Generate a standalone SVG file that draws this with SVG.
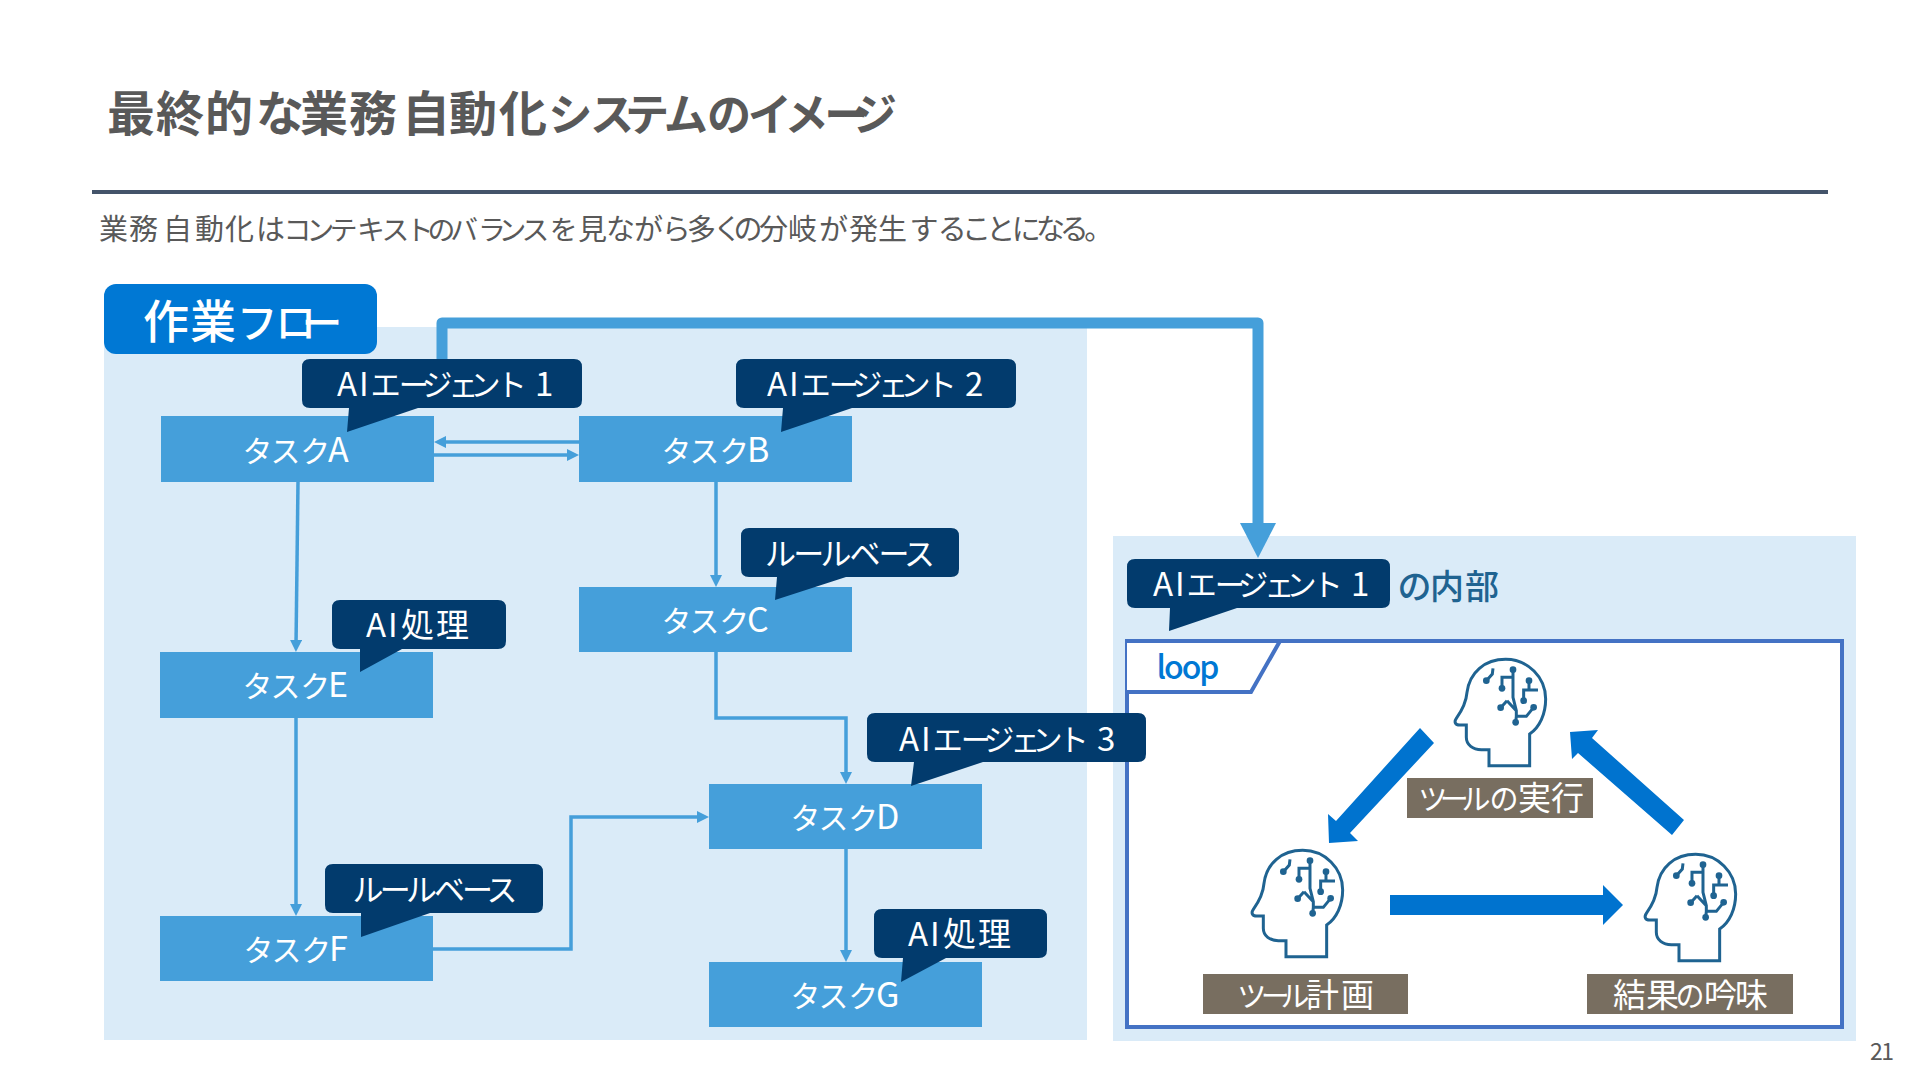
<svg xmlns="http://www.w3.org/2000/svg" width="1920" height="1080" viewBox="0 0 1920 1080">
<style>
text{font-family:"Noto Sans CJK JP","Noto Sans",sans-serif;font-feature-settings:"palt";}
.m{text-anchor:middle;}
.w{fill:#fff;}
.k{font-size:.88em;}
.k2{font-size:.92em;}
.k3{font-size:.96em;}
.task{fill:#459FDA;}
.tt{fill:#fff;font-size:34px;}
.co{fill:#023B6D;}
.ct{fill:#fff;font-size:33px;}
.lb{fill:#786E60;}
.lt{fill:#fff;font-size:33px;}
.panel{fill:#DAEBF8;}
.thin{fill:none;stroke:#459FDA;stroke-width:3.5;marker-end:url(#ah);}
.thick{fill:none;stroke:#459FDA;stroke-width:11;stroke-linejoin:round;marker-end:url(#ahb);}
.big{fill:#0073CF;}
.br{fill:none;stroke:#1F6391;stroke-width:9;stroke-linejoin:miter;}
.dot{fill:#1F6391;}
</style>
<defs>
<marker id="ah" markerUnits="userSpaceOnUse" markerWidth="12" markerHeight="12" refX="6" refY="6" orient="auto"><path d="M0 0L12 6L0 12Z" fill="#459FDA"/></marker>
<marker id="ahb" markerUnits="userSpaceOnUse" markerWidth="36" markerHeight="36" refX="7" refY="18" orient="auto"><path d="M0 0L35 18L0 36Z" fill="#459FDA"/></marker>
<g id="brain" transform="scale(.3333)">
<path class="br" d="M258 410H380V315C410 295 428 255 428 210C428 145 375 91 308 91C245 91 200 130 192 190C190 215 180 240 160 268C152 280 158 288 170 288H190V325C190 348 210 362 235 362H258Z"/>
<path class="br" d="M270 118L268 135L250 155M330 122V205L340 245V262L338 280M330 145H297V178M312 215L293 236M312 215L340 245M340 262H370L392 235M378 155V183H362V215M378 183H405"/>
<circle class="dot" cx="250" cy="155" r="10"/><circle class="dot" cx="330" cy="122" r="10"/><circle class="dot" cx="297" cy="178" r="10"/><circle class="dot" cx="293" cy="236" r="10"/><circle class="dot" cx="338" cy="280" r="10"/><circle class="dot" cx="392" cy="235" r="10"/><circle class="dot" cx="378" cy="155" r="10"/><circle class="dot" cx="362" cy="215" r="10"/>
</g>
</defs>
<rect width="1920" height="1080" fill="#fff"/>
<g id="header">
<text x="107 156 205 256 300 349 402 449 499 549 592 627 666 707 749 787 825 853" y="131" font-size="48" font-weight="700" fill="#595959">最終的な業務自動化<tspan class="k2">システムのイメージ</tspan></text>
<rect x="92" y="190" width="1736" height="4" fill="#44546A"/>
<text x="99 129 163 195 225 256 285 308 331 358 383 410 428 451 480 500 523 550 578 606 634 664 687 717 734 759 788 819 849 878 911 939 964 987 1012 1036 1061 1084" y="240" font-size="29" fill="#595959">業務自動化は<tspan class="k3">コンテキストのバランスを</tspan>見ながら多くの分岐が発生することになる。</text>
<text x="1870" y="1060" font-size="23" fill="#595959" font-family="Noto Sans" textLength="24">21</text>
</g>
<g id="panel-flow"><rect class="panel" x="104" y="327" width="983" height="713"/></g>
<g id="panel-inner">
<rect class="panel" x="1113" y="536" width="743" height="505"/>
<rect x="1127" y="641" width="715" height="386" fill="#fff" stroke="#4472C4" stroke-width="4"/>
<path d="M1127 641H1280L1251 692H1127" fill="#fff" stroke="#4472C4" stroke-width="4"/>
<text x="1188" y="679" class="m" font-size="32" font-weight="500" fill="#0078D4" textLength="63">loop</text>
<text x="1398 1430 1465" y="599" font-size="34" font-weight="500" fill="#1F6391">の内部</text>
</g>
<g id="connectors">
<path class="thick" d="M442 362V323H1258V530"/>
<path class="thin" d="M579 442H440"/>
<path class="thin" d="M434 455H573"/>
<path class="thin" d="M298 482L296 646"/>
<path class="thin" d="M296 718V910"/>
<path class="thin" d="M716 482V581"/>
<path class="thin" d="M716 652V718H846V778"/>
<path class="thin" d="M433 949H571V817H703"/>
<path class="thin" d="M846 849V956"/>
<path class="big" d="M1420 728L1434 743L1350 833L1358 841L1329 843L1328 814L1336 821Z"/>
<path class="big" d="M1684 820L1672 835L1578 753L1572 759L1570 732L1598 730L1592 738Z"/>
<path class="big" d="M1390 895H1603V885L1623 905L1603 925V915H1390Z"/>
</g>
<g id="title-flow"><rect x="104" y="284" width="273" height="70" rx="12" fill="#0078D4"/><text x="143 190 240 276 302" y="338" class="w" font-size="46" font-weight="500">作業<tspan class="k">フロー</tspan></text></g>
<g id="task-a"><rect class="task" x="161" y="416" width="273" height="66"/><text class="tt" x="244 272 301 328" y="462"><tspan class="k">タスク</tspan>A</text></g>
<g id="task-b"><rect class="task" x="579" y="416" width="273" height="66"/><text class="tt" x="663 691 720 747" y="462"><tspan class="k">タスク</tspan>B</text></g>
<g id="task-c"><rect class="task" x="579" y="587" width="273" height="65"/><text class="tt" x="663 691 720 747" y="632"><tspan class="k">タスク</tspan>C</text></g>
<g id="task-e"><rect class="task" x="160" y="652" width="273" height="66"/><text class="tt" x="244 272 301 328" y="697"><tspan class="k">タスク</tspan>E</text></g>
<g id="task-f"><rect class="task" x="160" y="916" width="273" height="65"/><text class="tt" x="245 273 302 329" y="961"><tspan class="k">タスク</tspan>F</text></g>
<g id="task-d"><rect class="task" x="709" y="784" width="273" height="65"/><text class="tt" x="792 820 849 876" y="829"><tspan class="k">タスク</tspan>D</text></g>
<g id="task-g"><rect class="task" x="709" y="962" width="273" height="65"/><text class="tt" x="792 820 849 876" y="1007"><tspan class="k">タスク</tspan>G</text></g>
<g id="callout-a"><path class="co" d="M310 359H574Q582 359 582 367V400Q582 408 574 408H418L347 432L349 408H310Q302 408 302 400V367Q302 359 310 359Z"/><text class="ct" x="337 359 371 399 422 451 472 501 527 535" y="396" xml:space="preserve">AI<tspan class="k2">エージェント</tspan> 1</text></g>
<g id="callout-b"><path class="co" d="M744 359H1008Q1016 359 1016 367V400Q1016 408 1008 408H852L781 432L783 408H744Q736 408 736 400V367Q736 359 744 359Z"/><text class="ct" x="767 789 801 829 852 881 902 931 957 965" y="396" xml:space="preserve">AI<tspan class="k2">エージェント</tspan> 2</text></g>
<g id="callout-c"><path class="co" d="M749 528H951Q959 528 959 536V569Q959 577 951 577H846L775 600L777 577H749Q741 577 741 569V536Q741 528 749 528Z"/><text class="ct m" x="850" y="565" style="font-size:31px" textLength="167">ルールベース</text></g>
<g id="callout-e"><path class="co" d="M340 600H498Q506 600 506 608V641Q506 649 498 649H402L360 672L360 649H340Q332 649 332 641V608Q332 600 340 600Z"/><text class="ct" x="366 388 401 436" y="637">AI処理</text></g>
<g id="callout-d"><path class="co" d="M875 713H1138Q1146 713 1146 721V754Q1146 762 1138 762H983L911 786L914 762H875Q867 762 867 754V721Q867 713 875 713Z"/><text class="ct" x="899 921 933 961 984 1013 1034 1063 1089 1097" y="751" xml:space="preserve">AI<tspan class="k2">エージェント</tspan> 3</text></g>
<g id="callout-f"><path class="co" d="M333 864H535Q543 864 543 872V905Q543 913 535 913H430L361 937L361 913H333Q325 913 325 905V872Q325 864 333 864Z"/><text class="ct m" x="435" y="901" style="font-size:31px" textLength="162">ルールベース</text></g>
<g id="callout-g"><path class="co" d="M882 909H1039Q1047 909 1047 917V950Q1047 958 1039 958H946L901 982L903 958H882Q874 958 874 950V917Q874 909 882 909Z"/><text class="ct" x="908 930 943 978" y="946">AI処理</text></g>
<g id="callout-inner"><path class="co" d="M1135 559H1382Q1390 559 1390 567V600Q1390 608 1382 608H1237L1169 631L1170 608H1135Q1127 608 1127 600V567Q1127 559 1135 559Z"/><text class="ct" x="1153 1175 1187 1215 1238 1267 1288 1317 1343 1351" y="596" xml:space="preserve">AI<tspan class="k2">エージェント</tspan> 1</text></g>
<g id="step-run"><use href="#brain" transform="translate(1403,629)"/><rect class="lb" x="1407" y="778" width="186" height="40"/><text class="lt" x="1419 1440 1463 1490 1518 1551" y="810"><tspan class="k">ツールの</tspan>実行</text></g>
<g id="step-plan"><use href="#brain" transform="translate(1200,820)"/><rect class="lb" x="1203" y="974" width="205" height="40"/><text class="lt" x="1238 1261 1282 1306 1341" y="1007"><tspan class="k">ツール</tspan>計画</text></g>
<g id="step-review"><use href="#brain" transform="translate(1593,824)"/><rect class="lb" x="1587" y="974" width="206" height="40"/><text class="lt" x="1613 1646 1676 1704 1735" y="1007">結果<tspan class="k">の</tspan>吟味</text></g>
</svg>
